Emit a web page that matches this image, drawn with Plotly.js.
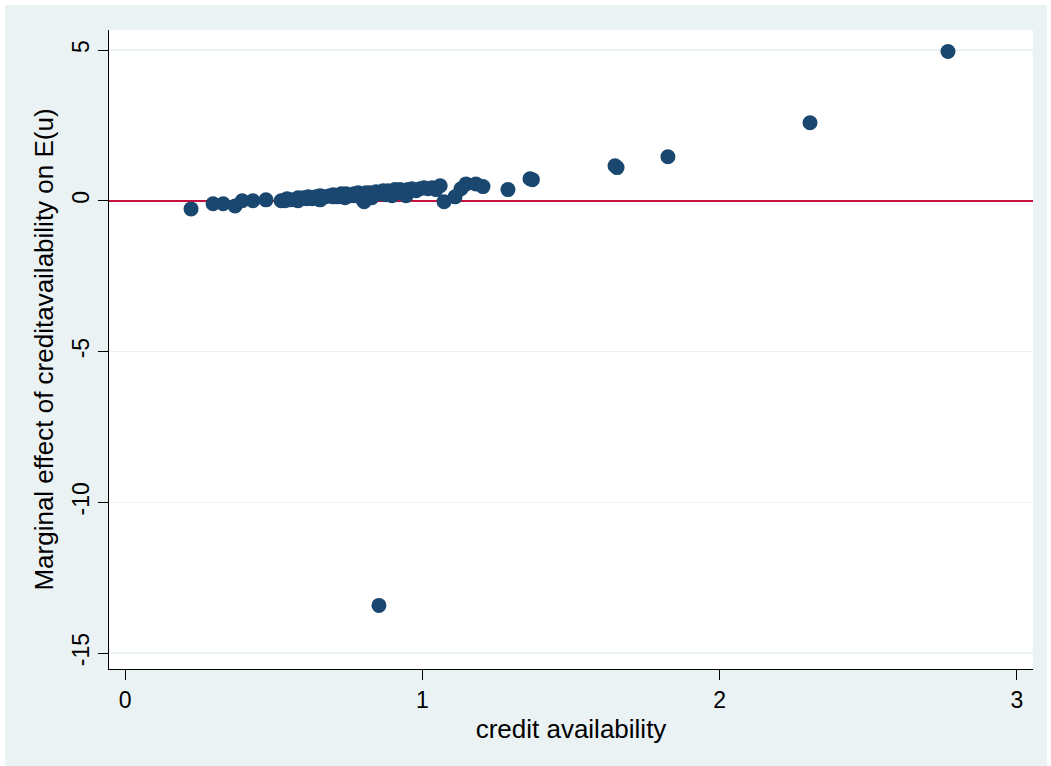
<!DOCTYPE html>
<html>
<head>
<meta charset="utf-8">
<script src="https://cdn.plot.ly/plotly-3.0.1.min.js"></script>
<style>
html,body{margin:0;padding:0;background:#ffffff;}
#chart{position:absolute;left:5px;top:5px;width:1042px;height:761px;}
</style>
</head>
<body>
<div id="chart"></div>
<script>
// credit availability (x) and marginal effect (y)
var creditAvailability = [
  0.222, 0.296, 0.330, 0.370, 0.394, 0.430, 0.474, 0.525,
  0.538, 0.555, 0.572, 0.582, 0.599, 0.616, 0.629, 0.642, 0.656, 0.673,
  0.689, 0.700, 0.716, 0.727, 0.743, 0.757, 0.770, 0.784, 0.797, 0.804,
  0.811, 0.824, 0.838, 0.844, 0.858, 0.868, 0.878, 0.885, 0.898, 0.908,
  0.918, 0.925, 0.938, 0.945, 0.952, 0.965, 0.979, 0.992, 1.006, 1.019,
  1.033, 1.046, 1.060,
  0.582, 0.656, 0.740, 0.830, 0.898, 0.545, 0.610, 0.700, 0.770, 0.860,
  1.073, 1.110, 1.130, 1.147, 1.180, 1.204, 1.288, 1.362, 1.370,
  1.648, 1.655, 1.826, 2.304, 2.768, 0.854
];
var marginalEffect = [
  -0.27, -0.10, -0.10, -0.17, 0.00, 0.00, 0.03, 0.00,
  0.00, 0.03, 0.03, 0.10, 0.10, 0.13, 0.07, 0.13, 0.17, 0.13,
  0.17, 0.20, 0.13, 0.23, 0.23, 0.17, 0.23, 0.27, 0.07, -0.03,
  0.27, 0.27, 0.20, 0.30, 0.27, 0.33, 0.20, 0.33, 0.30, 0.37,
  0.27, 0.37, 0.33, 0.17, 0.37, 0.40, 0.33, 0.40, 0.43, 0.40,
  0.43, 0.37, 0.50,
  0.00, 0.03, 0.10, 0.10, 0.17, 0.07, 0.07, 0.13, 0.17, 0.23,
  -0.03, 0.13, 0.40, 0.56, 0.56, 0.47, 0.37, 0.73, 0.70,
  1.16, 1.10, 1.46, 2.59, 4.95, -13.42
];
var xTickVals = [0, 1, 2, 3];
var yTickVals = [-15, -10, -5, 0, 5];
var xTitle = 'credit availability';
var yTitle = 'Marginal effect of creditavailability on E(u)';

var trace = {
  x: creditAvailability,
  y: marginalEffect,
  mode: 'markers',
  type: 'scatter',
  marker: {color: '#1a476f', size: 15, line: {width: 0}},
  hoverinfo: 'x+y'
};

var layout = {
  width: 1042,
  height: 761,
  paper_bgcolor: '#eaf2f3',
  plot_bgcolor: '#ffffff',
  showlegend: false,
  margin: {l: 104, r: 14, t: 25, b: 97},
  font: {family: 'Liberation Sans, Arial, sans-serif', color: '#000000', size: 22},
  xaxis: {
    range: [-0.054, 3.054],
    tickvals: xTickVals,
    ticktext: xTickVals.map(String),
    ticks: 'outside', ticklen: 10, tickwidth: 1, tickcolor: '#000000',
    showgrid: false, zeroline: false,
    showline: true, linecolor: '#000000', linewidth: 1,
    tickfont: {size: 23},
    title: {text: xTitle, font: {size: 26}, standoff: 8}
  },
  yaxis: {
    range: [-15.53, 5.664],
    tickvals: yTickVals,
    ticktext: yTickVals.map(String),
    tickangle: -90,
    ticks: 'outside', ticklen: 10, tickwidth: 1, tickcolor: '#000000',
    showgrid: true, gridcolor: '#eaf2f3', gridwidth: 1.5,
    zeroline: true, zerolinecolor: '#c8103c', zerolinewidth: 2.5,
    showline: true, linecolor: '#000000', linewidth: 1,
    tickfont: {size: 23},
    title: {text: yTitle, font: {size: 26}, standoff: 6}
  }
};

Plotly.newPlot('chart', [trace], layout, {displayModeBar: false, staticPlot: true});
</script>
</body>
</html>
